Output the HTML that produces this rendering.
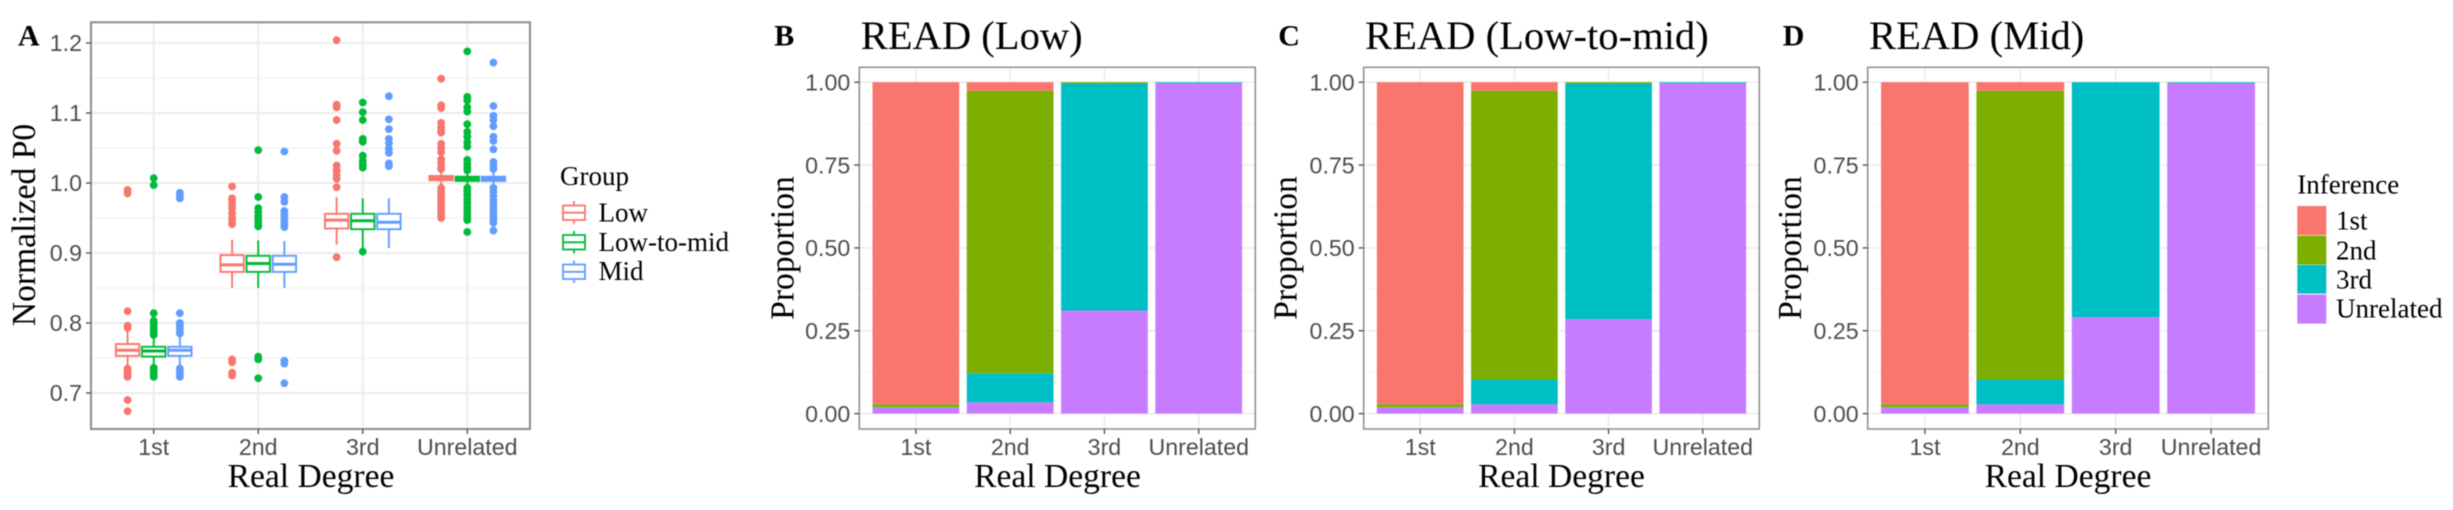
<!DOCTYPE html>
<html lang="en">
<head>
<meta charset="utf-8">
<title>READ normalized P0 and inference proportions</title>
<style>
html,body{margin:0;padding:0;background:#fff;width:2453px;height:510px;overflow:hidden}
svg{display:block;filter:blur(.65px)}
.serif{font-family:"Liberation Serif",serif;fill:#000}
.sans{font-family:"Liberation Sans",sans-serif;fill:#4d4d4d;font-size:23.2px}
.axt{font-size:33.6px}
.lg{font-size:27px}
.ttl{font-size:40.6px}
.let{font-size:30px;font-weight:bold}
</style>
</head>
<body>
<svg id="fig" xmlns="http://www.w3.org/2000/svg" width="2453" height="510" viewBox="0 0 2453 510">
  <rect x="0" y="0" width="2453" height="510" fill="#fff"/>
  <g id="panelA"></g>
  <g id="panelB"></g>
  <g id="panelC"></g>
  <g id="panelD"></g>

  <text class="serif let" x="18" y="45.7">A</text>
  <text class="serif let" x="774.3" y="45.7">B</text>
  <text class="serif let" x="1278.3" y="45.7">C</text>
  <text class="serif let" x="1782.7" y="45.7">D</text>

  <text class="serif ttl" x="860.7" y="49">READ (Low)</text>
  <text class="serif ttl" x="1365" y="49">READ (Low-to-mid)</text>
  <text class="serif ttl" x="1869" y="49">READ (Mid)</text>

  <text class="serif axt" x="311" y="487" text-anchor="middle">Real Degree</text>
  <text class="serif axt" x="1057.5" y="487" text-anchor="middle">Real Degree</text>
  <text class="serif axt" x="1561.5" y="487" text-anchor="middle">Real Degree</text>
  <text class="serif axt" x="2068" y="487" text-anchor="middle">Real Degree</text>

  <text class="serif axt" text-anchor="middle" transform="translate(35,225) rotate(-90)">Normalized P0</text>
  <text class="serif axt" text-anchor="middle" transform="translate(793.3,248) rotate(-90)">Proportion</text>
  <text class="serif axt" text-anchor="middle" transform="translate(1296.7,248) rotate(-90)">Proportion</text>
  <text class="serif axt" text-anchor="middle" transform="translate(1801,248) rotate(-90)">Proportion</text>

  <g>
    <text class="serif lg" x="560" y="185">Group</text>
    <g fill="#fff" stroke-width="1.8">
      <g stroke="#F8766D">
        <line x1="574" x2="574" y1="201" y2="224"/><rect x="563" y="205.5" width="22" height="14.5"/><line x1="563" x2="585" y1="212.7" y2="212.7"/>
      </g>
      <g stroke="#00BA38">
        <line x1="574" x2="574" y1="231" y2="253.5"/><rect x="563" y="235" width="22" height="14.5"/><line x1="563" x2="585" y1="242.3" y2="242.3"/>
      </g>
      <g stroke="#619CFF">
        <line x1="574" x2="574" y1="260.5" y2="283"/><rect x="563" y="264.5" width="22" height="14.5"/><line x1="563" x2="585" y1="271.8" y2="271.8"/>
      </g>
    </g>
    <text class="serif lg" x="598.5" y="221.7">Low</text>
    <text class="serif lg" x="598.5" y="251">Low-to-mid</text>
    <text class="serif lg" x="598.5" y="280">Mid</text>
  </g>

  <g>
    <text class="serif lg" x="2297.3" y="193.3">Inference</text>
    <rect x="2297.3" y="206" width="29" height="29" fill="#F8766D"/>
    <rect x="2297.3" y="235.6" width="29" height="29" fill="#7CAE00"/>
    <rect x="2297.3" y="265" width="29" height="28.6" fill="#00BFC4"/>
    <rect x="2297.3" y="294.6" width="29" height="29" fill="#C77CFF"/>
    <text class="serif lg" x="2336" y="229.3">1st</text>
    <text class="serif lg" x="2336" y="259.3">2nd</text>
    <text class="serif lg" x="2336" y="288.7">3rd</text>
    <text class="serif lg" x="2336" y="317.7">Unrelated</text>
  </g>
</svg>
<script>
// ---------- shared categories and tick labels ----------
const categories = ["1st", "2nd", "3rd", "Unrelated"];
const p0Ticks = [0.7, 0.8, 0.9, 1.0, 1.1, 1.2];
const p0MinorTicks = [0.75, 0.85, 0.95, 1.05, 1.15];
const propTicks = [0, 0.25, 0.5, 0.75, 1];
const propMinorTicks = [0.125, 0.375, 0.625, 0.875];

// ---------- panel A: box statistics per category [whiskerLow, q1, median, q3, whiskerHigh] ----------
const lowBoxes = [
  [0.738, 0.753, 0.761, 0.770, 0.788],
  [0.850, 0.873, 0.883, 0.897, 0.919],
  [0.912, 0.935, 0.947, 0.956, 0.980],
  [0.998, 1.004, 1.007, 1.010, 1.016]
];
const midLowBoxes = [
  [0.738, 0.752, 0.760, 0.766, 0.782],
  [0.850, 0.873, 0.885, 0.896, 0.918],
  [0.905, 0.934, 0.946, 0.956, 0.978],
  [0.998, 1.003, 1.006, 1.009, 1.016]
];
const midBoxes = [
  [0.738, 0.753, 0.761, 0.766, 0.782],
  [0.850, 0.873, 0.884, 0.896, 0.917],
  [0.907, 0.934, 0.944, 0.956, 0.978],
  [0.998, 1.003, 1.006, 1.009, 1.016]
];

// ---------- panel A: outliers per category ----------
const lowOutliers = [
  [0.990, 0.985, 0.817, 0.796, 0.793, 0.735, 0.731, 0.728, 0.725, 0.723, 0.690, 0.674],
  [0.995, 0.978, 0.974, 0.970, 0.964, 0.957, 0.950, 0.946, 0.941, 0.748, 0.744, 0.729, 0.725],
  [1.204, 1.112, 1.108, 1.090, 1.056, 1.046, 1.025, 1.018, 1.011, 1.006, 0.994, 0.894],
  [1.149, 1.111, 1.107, 1.086, 1.080, 1.075, 1.072, 1.056, 1.050, 1.044, 1.034, 1.028, 1.022, 1.020, 0.993, 0.988, 0.983, 0.978, 0.973, 0.968, 0.963, 0.958, 0.953, 0.950]
];
const midLowOutliers = [
  [1.007, 0.997, 0.814, 0.803, 0.799, 0.795, 0.791, 0.787, 0.783, 0.736, 0.732, 0.728, 0.725, 0.723],
  [1.047, 0.980, 0.964, 0.958, 0.952, 0.947, 0.942, 0.938, 0.752, 0.748, 0.721],
  [1.115, 1.101, 1.090, 1.063, 1.059, 1.039, 1.032, 1.026, 1.022, 0.902],
  [1.188, 1.123, 1.118, 1.108, 1.102, 1.084, 1.073, 1.066, 1.058, 1.052, 1.033, 1.027, 1.022, 1.018, 0.993, 0.988, 0.983, 0.977, 0.972, 0.966, 0.961, 0.956, 0.951, 0.947, 0.930]
];
const midOutliers = [
  [0.986, 0.982, 0.978, 0.814, 0.800, 0.796, 0.792, 0.788, 0.785, 0.735, 0.731, 0.727, 0.723],
  [1.045, 0.980, 0.973, 0.960, 0.955, 0.950, 0.945, 0.940, 0.937, 0.746, 0.742, 0.714],
  [1.124, 1.091, 1.077, 1.063, 1.057, 1.049, 1.043, 1.028, 1.024],
  [1.172, 1.110, 1.096, 1.090, 1.081, 1.066, 1.060, 1.048, 1.030, 1.025, 1.020, 0.993, 0.987, 0.981, 0.975, 0.970, 0.964, 0.958, 0.953, 0.948, 0.943, 0.932]
];

// ---------- panels B, C, D: share of each inference per real degree ----------
const readLowFirst = [0.972, 0.026, 0, 0];
const readLowSecond = [0.009, 0.852, 0.004, 0];
const readLowThird = [0.001, 0.088, 0.685, 0.003];
const readLowUnrelated = [0.018, 0.034, 0.311, 0.997];

const readLowMidFirst = [0.972, 0.026, 0, 0];
const readLowMidSecond = [0.009, 0.871, 0.004, 0];
const readLowMidThird = [0.001, 0.075, 0.711, 0.003];
const readLowMidUnrelated = [0.018, 0.028, 0.285, 0.997];

const readMidFirst = [0.972, 0.026, 0, 0];
const readMidSecond = [0.009, 0.871, 0, 0];
const readMidThird = [0.001, 0.075, 0.709, 0.003];
const readMidUnrelated = [0.018, 0.028, 0.291, 0.997];

// ---------- drawing ----------
const NS = "http://www.w3.org/2000/svg";
function make(tag, parent, props) {
  const node = document.createElementNS(NS, tag);
  for (const k in props) node.setAttribute(k, props[k]);
  parent.appendChild(node);
  return node;
}
function bandScale(left, right) {
  const step = (right - left) / 4.2;
  return function (i) { return left + (0.6 + i) * step; };
}
function linearScale(v0, y0, v1, y1) {
  return function (v) { return y0 + (v - v0) * (y1 - y0) / (v1 - v0); };
}
function drawFrame(g, box, x, y, majors, minors, gridW) {
  minors.forEach(function (t) {
    const line = make("line", g, { x1: box.l, x2: box.r, y1: y(t), y2: y(t), stroke: "#f3f3f3", "stroke-width": gridW * 0.7 });
    
    
  });
  majors.forEach(function (t) {
    const line = make("line", g, { x1: box.l, x2: box.r, y1: y(t), y2: y(t), stroke: "#ececec", "stroke-width": gridW });
    
    
  });
  categories.forEach(function (c, i) {
    const line = make("line", g, { x1: x(i), x2: x(i), y1: box.t, y2: box.b, stroke: "#ececec", "stroke-width": gridW });
    
    
  });
}
function drawAxes(g, box, x, y, majors, fmt, borderW, labelRight, prefix) {
  const frame = make("rect", g, { x: box.l, y: box.t, width: box.r - box.l, height: box.b - box.t, fill: "none", stroke: "#8c8c8c", "stroke-width": borderW });
  
  
  majors.forEach(function (t) {
    const tick = make("line", g, { x1: box.l - 5, x2: box.l, y1: y(t), y2: y(t), stroke: "#555", "stroke-width": 1.4 });
    
    
    const label = make("text", g, { class: "sans", x: labelRight, y: y(t) + 8.2, "text-anchor": "end" });
    label.textContent = fmt(t);
    
    
  });
  categories.forEach(function (c, i) {
    const tick = make("line", g, { x1: x(i), x2: x(i), y1: box.b, y2: box.b + 5, stroke: "#555", "stroke-width": 1.4 });
    
    
    const label = make("text", g, { class: "sans", x: x(i), y: 455, "text-anchor": "middle" });
    label.textContent = c;
    
    
  });
}

// Panel A
(function () {
  const g = document.getElementById("panelA");
  const box = { l: 91, r: 530, t: 22.3, b: 429 };
  const x = bandScale(box.l, box.r);
  const y = linearScale(0.7, 393, 1.2, 43);
  const step = (box.r - box.l) / 4.2;
  drawFrame(g, box, x, y, p0Ticks, p0MinorTicks, 1.9);
  const series = [
    { name: "low", color: "#F8766D", boxes: lowBoxes, outliers: lowOutliers, off: -1 },
    { name: "low-to-mid", color: "#00BA38", boxes: midLowBoxes, outliers: midLowOutliers, off: 0 },
    { name: "mid", color: "#619CFF", boxes: midBoxes, outliers: midOutliers, off: 1 }
  ];
  series.forEach(function (s) {
    categories.forEach(function (c, i) {
      const cx = x(i) + s.off * step * 0.25;
      const hw = step * 0.112;
      const b = s.boxes[i];
      s.outliers[i].forEach(function (v) {
        const dot = make("circle", g, { cx: cx, cy: y(v), r: 3.9, fill: s.color });
        
        
      });
      const whisker = make("line", g, { x1: cx, x2: cx, y1: y(b[0]), y2: y(b[4]), stroke: s.color, "stroke-width": 1.9 });
      
      
      const rect = make("rect", g, { x: cx - hw, y: y(b[3]), width: hw * 2, height: y(b[1]) - y(b[3]), fill: "#fff", stroke: s.color, "stroke-width": 1.9 });
      
      
      const median = make("line", g, { x1: cx - hw, x2: cx + hw, y1: y(b[2]), y2: y(b[2]), stroke: s.color, "stroke-width": 3 });
      
      
    });
  });
  drawAxes(g, box, x, y, p0Ticks, function (t) { return t.toFixed(1); }, 2, 82, "a");
})();

// Panels B, C, D
function drawStack(id, left, right, first, second, third, unrelated, prefix) {
  const g = document.getElementById(id);
  const box = { l: left, r: right, t: 67.3, b: 429 };
  const x = bandScale(box.l, box.r);
  const y = linearScale(0, 413.6, 1, 82.2);
  const step = (box.r - box.l) / 4.2;
  drawFrame(g, box, x, y, propTicks, propMinorTicks, 1.6);
  const layers = [
    { name: "unrelated", color: "#C77CFF", values: unrelated },
    { name: "3rd", color: "#00BFC4", values: third },
    { name: "2nd", color: "#7CAE00", values: second },
    { name: "1st", color: "#F8766D", values: first }
  ];
  categories.forEach(function (c, i) {
    let acc = 0;
    layers.forEach(function (layer) {
      const v = layer.values[i];
      if (v > 0) {
        const bar = make("rect", g, { x: x(i) - step * 0.46, y: y(acc + v), width: step * 0.92, height: y(acc) - y(acc + v), fill: layer.color });
        
        
      }
      acc += v;
    });
  });
  drawAxes(g, box, x, y, propTicks, function (t) { return t.toFixed(2); }, 1.5, left - 9, prefix);
}
drawStack("panelB", 859.3, 1255.3, readLowFirst, readLowSecond, readLowThird, readLowUnrelated, "b");
drawStack("panelC", 1363.7, 1759.3, readLowMidFirst, readLowMidSecond, readLowMidThird, readLowMidUnrelated, "c");
drawStack("panelD", 1867.7, 2268.3, readMidFirst, readMidSecond, readMidThird, readMidUnrelated, "d");
</script>
</body>
</html>
